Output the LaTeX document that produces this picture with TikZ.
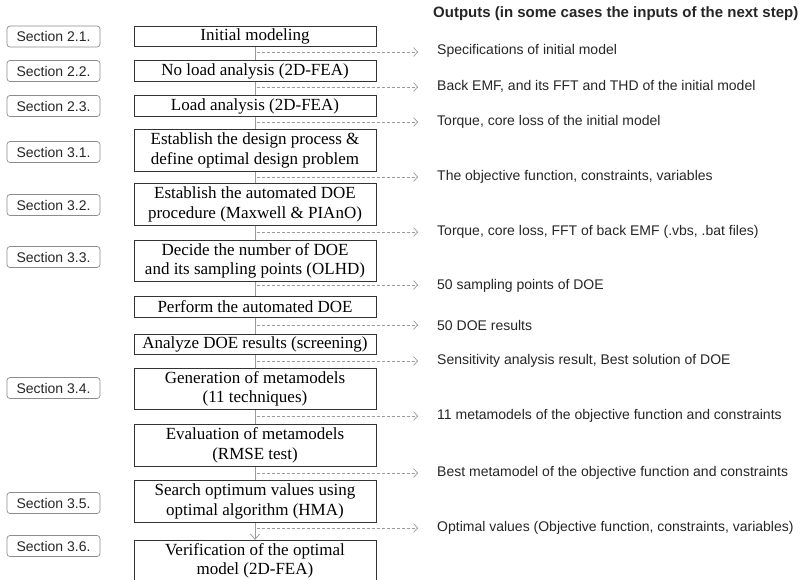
\documentclass[tikz,border=0pt]{standalone}
\usepackage{fontspec}
\setmainfont{Liberation Serif}
\setsansfont{Liberation Sans}
\usepackage{tikz}
\usetikzlibrary{arrows.meta}
\usetikzlibrary{calc}
\usetikzlibrary{positioning}
\definecolor{boxline}{HTML}{333333}
\definecolor{linkgray}{HTML}{9A9A9A}
\definecolor{secgray}{HTML}{8C8C8C}
\tikzstyle{stage}=[draw=boxline, line width=0.9pt, inner sep=0pt, minimum width=242pt, align=center, font=\fontsize{17}{19.5}\selectfont]
\tikzstyle{one}=[stage, minimum height=20.5pt]
\tikzstyle{two}=[stage, minimum height=41.5pt]
\tikzstyle{sec}=[draw=secgray, rounded corners=3pt, line width=0.7pt, minimum width=93pt, minimum height=21pt, inner sep=0pt, font=\sffamily\fontsize{14}{16}\selectfont, text=black!85]
\tikzstyle{outp}=[anchor=west, inner sep=0pt, font=\sffamily\fontsize{14}{16}\selectfont, text=black!85]
\tikzstyle{flow}=[draw=linkgray, line width=0.8pt]
\tikzstyle{res}=[draw=linkgray, line width=0.7pt, dash pattern=on 3pt off 2pt, -{Straight Barb[length=4pt,width=9pt]}, shorten >=19pt, shorten <=1.5pt]

\begin{document}
\begin{tikzpicture}[x=1pt, y=-1pt]
\useasboundingbox (0,0) rectangle (810,579);

% design steps
\node[one] (init) at (255,36.5) {Initial modeling};
\node[one] (noload) at (255,71) {No load analysis (2D-FEA)};
\node[one] (load) at (255,106) {Load analysis (2D-FEA)};
\node[two] (design) at (255,150.5) {Establish the design process \&\\define optimal design problem};
\node[two] (autodoe) at (255,204.5) {Establish the automated DOE\\procedure (Maxwell \& PIAnO)};
\node[two] (sampling) at (255,261) {Decide the number of DOE\\and its sampling points (OLHD)};
\node[one] (perform) at (255,307) {Perform the automated DOE};
\node[one] (analyze) at (255,344.5) {Analyze DOE results (screening)};
\node[two] (meta) at (255,389) {Generation of metamodels\\(11 techniques)};
\node[two] (rmse) at (255,445.5) {Evaluation of metamodels\\(RMSE test)};
\node[two] (hma) at (255,501.5) {Search optimum values using\\optimal algorithm (HMA)};
\node[two] (verify) at (255,561) {Verification of the optimal\\model (2D-FEA)};

% sections
\node[sec] (s21) at (53.5,36.5) {Section 2.1.};
\node[sec] (s22) at (53.5,71) {Section 2.2.};
\node[sec] (s23) at (53.5,106) {Section 2.3.};
\node[sec] (s31) at (53.5,152) {Section 3.1.};
\node[sec] (s32) at (53.5,205) {Section 3.2.};
\node[sec] (s33) at (53.5,257) {Section 3.3.};
\node[sec] (s34) at (53.5,388) {Section 3.4.};
\node[sec] (s35) at (53.5,503) {Section 3.5.};
\node[sec] (s36) at (53.5,546) {Section 3.6.};

% outputs
\node[outp, font=\sffamily\bfseries\fontsize{15}{17}\selectfont] (head) at (433,14) {Outputs (in some cases the inputs of the next step)};
\node[outp] (o1) at (437,51) {Specifications of initial model};
\node[outp] (o2) at (437,86) {Back EMF, and its FFT and THD of the initial model};
\node[outp] (o3) at (437,122) {Torque, core loss of the initial model};
\node[outp] (o4) at (437,176.5) {The objective function, constraints, variables};
\node[outp] (o5) at (437,232) {Torque, core loss, FFT of back EMF (.vbs, .bat files)};
\node[outp] (o6) at (437,286) {50 sampling points of DOE};
\node[outp] (o7) at (437,325) {50 DOE results};
\node[outp] (o8) at (437,361) {Sensitivity analysis result, Best solution of DOE};
\node[outp] (o9) at (437,416) {11 metamodels of the objective function and constraints};
\node[outp] (o10) at (437,472.5) {Best metamodel of the objective function and constraints};
\node[outp] (o11) at (437,527.5) {Optimal values (Objective function, constraints, variables)};

\foreach \a/\b in {init/noload, noload/load, load/design, design/autodoe,
  autodoe/sampling, sampling/perform, perform/analyze, analyze/meta, meta/rmse,
  rmse/hma}
  \draw[flow] (\a) -- (\b);
\draw[flow, -{Straight Barb[length=5pt,width=9pt]}] (hma) -- (verify);

\foreach \n/\y in {o1/52, o2/87, o3/122, o4/177, o5/232, o6/285, o7/325,
  o8/361, o9/416, o10/473, o11/528}{
  \coordinate (t\n) at (255,\y);
  \draw[res] (t\n) -- (t\n -| \n.west);
}
\end{tikzpicture}
\end{document}
